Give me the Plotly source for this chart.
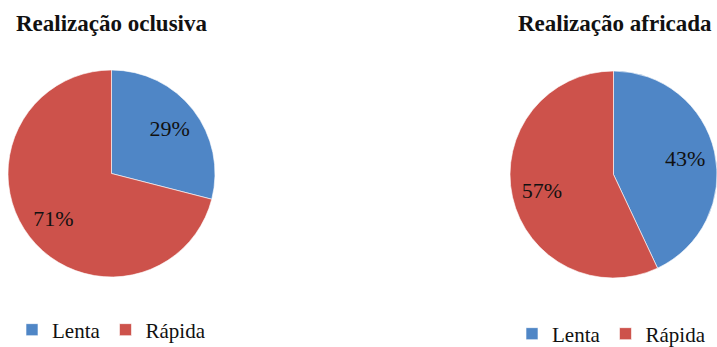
import plotly.graph_objects as go

categories = ["Lenta", "Rápida"]
oclusiva_values = [29, 71]
africada_values = [43, 57]
titles = ["Realização oclusiva", "Realização africada"]
colors = ["#4f86c6", "#cd524b"]

W, H = 717, 347
SERIF = "Liberation Serif"

def px_dom_x(a, b):
    return [a / W, b / W]

def px_dom_y(top, bottom):
    return [(H - bottom) / H, (H - top) / H]

domains = [
    dict(x=px_dom_x(8, 215), y=px_dom_y(70, 277)),
    dict(x=px_dom_x(510, 717), y=px_dom_y(71, 278)),
]
series = [oclusiva_values, africada_values]
legends = ["legend", "legend2"]
# zero-width suffix keeps the two pies' legend entries separate
label_sets = [categories, [c + "\u200b" for c in categories]]

fig = go.Figure()
for vals, dom, leg, labs in zip(series, domains, legends, label_sets):
    fig.add_trace(go.Pie(
        labels=labs, values=vals, sort=False, direction="clockwise", rotation=0,
        marker=dict(colors=colors, line=dict(color="rgba(255,255,255,0.6)", width=1)),
        textinfo="none", domain=dom, legend=leg, hoverinfo="skip"))
    fig.add_trace(go.Pie(
        labels=labs, values=vals, sort=False, direction="clockwise", rotation=0,
        hole=0.42, marker=dict(colors=["rgba(0,0,0,0)"] * 2, line=dict(width=0)),
        texttemplate="%{percent:.0%}", textposition="inside",
        insidetextorientation="horizontal",
        textfont=dict(family=SERIF, size=22, color="#111111"),
        domain=dom, showlegend=False, hoverinfo="skip"))

legend_common = dict(orientation="h", xanchor="left", yanchor="middle",
                     font=dict(family=SERIF, size=21, color="#111111"),
                     bgcolor="rgba(0,0,0,0)")

fig.update_layout(
    width=W, height=H, margin=dict(l=0, r=0, t=0, b=0, autoexpand=False),
    paper_bgcolor="white", plot_bgcolor="white",
    font=dict(family=SERIF, color="#111111"),
    legend=dict(legend_common, x=12 / W, y=(H - 330) / H),
    legend2=dict(legend_common, x=512 / W, y=(H - 334) / H),
    annotations=[
        dict(text="<b>" + titles[0] + "</b>", x=14 / W, y=(H - 24) / H, xref="paper", yref="paper",
             xanchor="left", yanchor="middle", showarrow=False,
             font=dict(family=SERIF, size=23, color="#111111")),
        dict(text="<b>" + titles[1] + "</b>", x=516 / W, y=(H - 24) / H, xref="paper", yref="paper",
             xanchor="left", yanchor="middle", showarrow=False,
             font=dict(family=SERIF, size=23, color="#111111")),
    ],
)

fig.write_html("out.html")
